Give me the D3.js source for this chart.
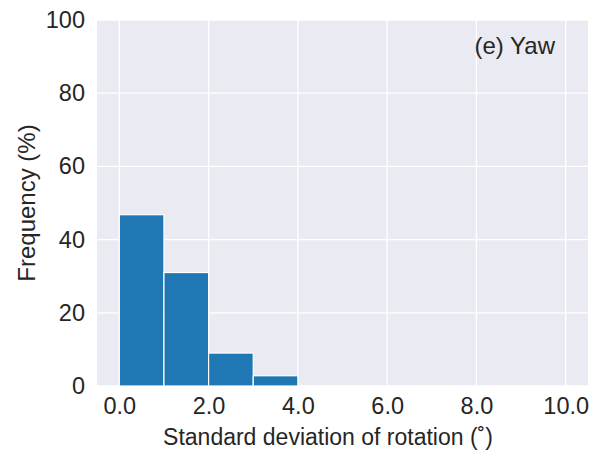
<!DOCTYPE html>
<html>
<head>
<meta charset="utf-8">
<script src="https://cdn.jsdelivr.net/npm/d3@7"></script>
<style>
  body { margin: 0; background: #fff; }
  text { font-family: "Liberation Sans", Arial, sans-serif; fill: #262626; }
</style>
</head>
<body>
<script>
// histogram bins (degrees) and frequency (%)
const binStarts = [0, 1, 2, 3];
const binWidth = 1;
const frequencies = [46.8, 31.0, 9.0, 2.8];
const xTicks = [0, 2, 4, 6, 8, 10];
const yTicks = [0, 20, 40, 60, 80, 100];
const panelLabel = "(e) Yaw";

const width = 594,
  height = 454,
  margin = { top: 20, right: 6, bottom: 68, left: 97 };

const svg = d3.select("body")
  .append("svg")
  .attr("width", width)
  .attr("height", height);

const x = d3.scaleLinear()
  .domain([-0.5, 10.5])
  .range([margin.left, width - margin.right]);

const y = d3.scaleLinear()
  .domain([0, 100])
  .range([height - margin.bottom, margin.top]);

// background
svg.append("rect")
  .attr("x", x.range()[0])
  .attr("y", y.range()[1])
  .attr("width", x.range()[1] - x.range()[0])
  .attr("height", y.range()[0] - y.range()[1])
  .attr("fill", "#eaeaf2");

// grid
svg.append("g")
  .selectAll("line")
  .data(xTicks)
  .join("line")
  .attr("x1", d => x(d))
  .attr("x2", d => x(d))
  .attr("y1", y.range()[0])
  .attr("y2", y.range()[1])
  .attr("stroke", "#fff")
  .attr("stroke-width", 1.3);

svg.append("g")
  .selectAll("line")
  .data(yTicks)
  .join("line")
  .attr("x1", x.range()[0])
  .attr("x2", x.range()[1])
  .attr("y1", d => y(d))
  .attr("y2", d => y(d))
  .attr("stroke", "#fff")
  .attr("stroke-width", 1.3);

// bars
svg.append("g")
  .selectAll("rect")
  .data(binStarts.map((b, i) => ({ b, v: frequencies[i] })))
  .join("rect")
  .attr("x", d => x(d.b))
  .attr("width", d => x(d.b + binWidth) - x(d.b))
  .attr("y", d => y(d.v))
  .attr("height", d => y(0) - y(d.v))
  .attr("fill", "#1f77b4")
  .attr("stroke", "#fff")
  .attr("stroke-width", 1.2);

// axes (no domain, no tick lines)
const xAxis = svg.append("g")
  .attr("transform", `translate(0,${y.range()[0]})`)
  .call(d3.axisBottom(x).tickValues(xTicks).tickFormat(d3.format(".1f")).tickSize(0).tickPadding(11));
const yAxis = svg.append("g")
  .attr("transform", `translate(${x.range()[0]},0)`)
  .call(d3.axisLeft(y).tickValues(yTicks).tickSize(0).tickPadding(12));

[xAxis, yAxis].forEach(g => {
  g.select(".domain").remove();
  g.selectAll("text")
    .style("font-size", "23.5px")
    .style("font-family", "\"Liberation Sans\", Arial, sans-serif")
    .attr("fill", "#262626");
});

svg.append("text")
  .attr("x", 328)
  .attr("y", 445)
  .attr("text-anchor", "middle")
  .style("font-size", "23px")
  .text("Standard deviation of rotation (˚)");

svg.append("text")
  .attr("transform", `translate(35,${(y.range()[0] + y.range()[1]) / 2}) rotate(-90)`)
  .attr("text-anchor", "middle")
  .style("font-size", "24px")
  .text("Frequency (%)");

svg.append("text")
  .attr("x", 555)
  .attr("y", 54)
  .attr("text-anchor", "end")
  .style("font-size", "24px")
  .text(panelLabel);
</script>
</body>
</html>
